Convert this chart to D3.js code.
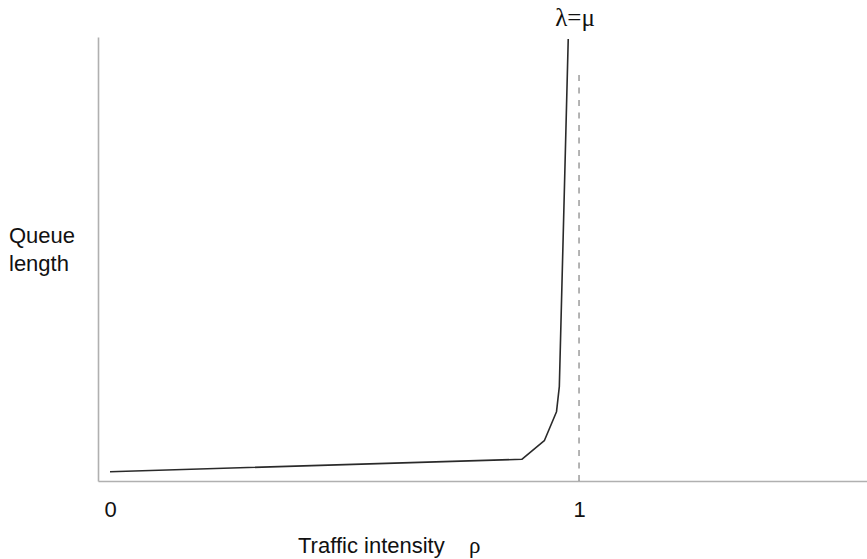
<!DOCTYPE html>
<html>
<head>
<meta charset="utf-8">
<script src="https://cdn.jsdelivr.net/npm/d3@7"></script>
<style>
  body { margin: 0; background: #fff; }
  svg { display: block; }
</style>
</head>
<body>
<div id="chart"></div>
<script>
// curve: queue length against traffic intensity (arbitrary units)
const rho = [0, 0.878, 0.926, 0.952, 0.958, 0.977];
const queueLength = [0.93, 2.17, 4.03, 6.93, 9.43, 44.2];

const xTickValues = [0, 1];
const xTickLabels = ['0', '1'];

// asymptote where arrival rate equals service rate
const asymptoteRho = 1;
const asymptoteTop = 40.6;
const asymptoteLabel = 'λ=μ';

const width = 867;
const height = 559;

const svg = d3.select('#chart')
  .append('svg')
  .attr('width', width)
  .attr('height', height)

// scales: 0 sits slightly inside the axis corner, axis runs to the right edge
const xScale = d3.scaleLinear()
  .domain([-0.0256, 1.614])
  .range([98, 867])

const yScale = d3.scaleLinear()
  .domain([0, 44.4])
  .range([481, 37])

const xAxis = d3.axisBottom(xScale)
  .tickValues(xTickValues)
  .tickFormat((d, i) => xTickLabels[i])
  .tickSize(0)
  .tickSizeOuter(0)

const yAxis = d3.axisLeft(yScale)
  .tickValues([])
  .tickSizeOuter(0)

const gx = svg.append('g')
  .attr('class', 'xaxis')
  .attr('transform', `translate(0, ${yScale(0)})`)
  .call(xAxis)

gx.select('.domain')
  .attr('stroke', '#b0b0b0')
  .attr('stroke-width', 1.6)

gx.selectAll('.tick text')
  .attr('y', 36)
  .attr('dy', 0)
  .attr('fill', '#111')
  .style('font-family', '"Liberation Sans", Arial, sans-serif')
  .style('font-size', '22px')

const gy = svg.append('g')
  .attr('class', 'yaxis')
  .attr('transform', `translate(${xScale.range()[0]}, 0)`)
  .call(yAxis)

gy.select('.domain')
  .attr('stroke', '#b0b0b0')
  .attr('stroke-width', 1.6)

// dashed asymptote at rho = 1
svg.append('line')
  .attr('x1', xScale(asymptoteRho))
  .attr('x2', xScale(asymptoteRho))
  .attr('y1', yScale(asymptoteTop))
  .attr('y2', yScale(0))
  .attr('stroke', '#777')
  .attr('stroke-width', 1.1)
  .attr('stroke-dasharray', '6,6.5')

svg.append('text')
  .attr('x', xScale(asymptoteRho) - 4)
  .attr('y', 26)
  .attr('text-anchor', 'middle')
  .style('font-family', '"Liberation Serif", "Times New Roman", serif')
  .style('font-size', '25px')
  .attr('fill', '#111')
  .text(asymptoteLabel)

// the curve
const points = rho.map((r, i) => [r, queueLength[i]])

const line = d3.line()
  .x(d => xScale(d[0]))
  .y(d => yScale(d[1]))

svg.append('path')
  .datum(points)
  .attr('fill', 'none')
  .attr('stroke', '#2a2a2a')
  .attr('stroke-width', 1.6)
  .attr('stroke-linejoin', 'round')
  .attr('d', line)

// axis titles
const ylab = svg.append('text')
  .style('font-family', '"Liberation Sans", Arial, sans-serif')
  .style('font-size', '22px')
  .attr('fill', '#111')

ylab.append('tspan').attr('x', 9).attr('y', 243).text('Queue')
ylab.append('tspan').attr('x', 9).attr('y', 271).text('length')

const xlab = svg.append('text')
  .attr('x', 298)
  .attr('y', 553)
  .style('font-family', '"Liberation Sans", Arial, sans-serif')
  .style('font-size', '22px')
  .attr('fill', '#111')

xlab.append('tspan').text('Traffic intensity')
xlab.append('tspan')
  .attr('x', 469)
  .style('font-family', '"Liberation Serif", "Times New Roman", serif')
  .style('font-size', '23px')
  .text('ρ')
</script>
</body>
</html>
